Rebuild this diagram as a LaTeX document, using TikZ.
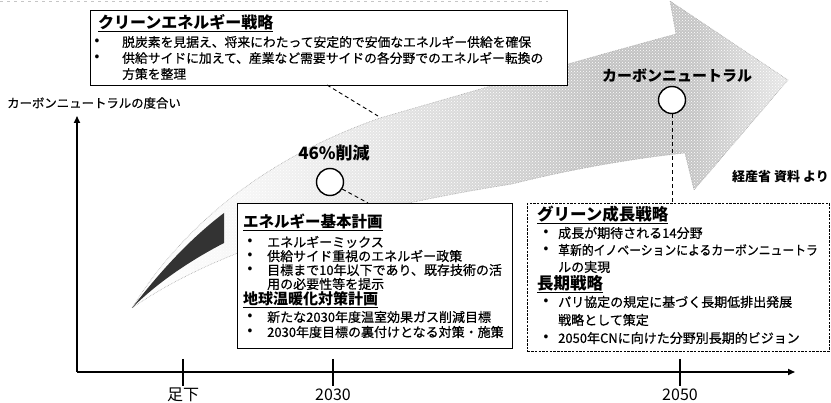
\documentclass[tikz,border=0pt]{standalone}
\usepackage{fontspec}
\usepackage{graphicx}
\newfontfamily\jp{Noto Sans CJK JP}
\newfontfamily\jpm{Noto Sans CJK JP}[FakeBold=0.6]
\usetikzlibrary{arrows.meta,patterns}
\pgfdeclarehorizontalshading{arrowshade}{100bp}{color(0bp)=(white); color(25bp)=(white); color(33bp)=(gray!6); color(49bp)=(gray!28); color(61bp)=(gray!48); color(68bp)=(gray!45); color(75bp)=(gray!18); color(100bp)=(gray!18)}
\begin{document}
\begin{tikzpicture}[x=1pt,y=-1pt,
  ttl/.style={font=\jp\bfseries\fontsize{16}{16}\selectfont, anchor=west, inner sep=0pt},
  bod/.style={font=\jpm\fontsize{13}{13}\selectfont, anchor=west, inner sep=0pt},
  bul/.style={font=\jp\bfseries\fontsize{12}{12}\selectfont, anchor=center, inner sep=0pt},
  lbl/.style={font=\jp\bfseries\fontsize{#1}{#1}\selectfont, inner sep=0pt},
  axl/.style={font=\jp\fontsize{16}{16}\selectfont, inner sep=0pt},
  box/.style={draw=black, line width=1.3pt, fill=white},
  gbox/.style={draw=black, line width=0.8pt, dash pattern=on 2.5pt off 1.2pt, fill=white},
  mark circ/.style={circle, draw=black, line width=1.4pt, fill=white, minimum size=27pt, inner sep=0pt},
  callout/.style={draw=black, line width=0.9pt, dash pattern=on 4pt off 3pt},
  outline/.style={draw=gray!70, line width=0.6pt, densely dotted},
  axis/.style={draw=black, line width=1.6pt, -{Triangle[length=7pt,width=6pt]}},
  tick/.style={draw=black, line width=1.2pt}
]
\useasboundingbox (0,0) rectangle (831,403);
% faint scan line at the top
\coordinate (s0) at (0,1.5);
\coordinate (s1) at (548,1.5);
\draw[gray!45, line width=0.5pt, dash pattern=on 3pt off 4pt] (s0) -- (s1);
% big arrow
\shade[shading=arrowshade] (132,308) .. controls (180,230) and (260,160) .. (380,118)
  .. controls (470,92) and (580,60) .. (676,34) -- (670,1) -- (788,80) -- (694,190) -- (685,153)
  .. controls (620,160) and (560,172) .. (512,184)
  .. controls (380,205) and (230,240) .. (132,308) -- cycle;
\fill[pattern=crosshatch dots, pattern color=white] (132,308) .. controls (180,230) and (260,160) .. (380,118)
  .. controls (470,92) and (580,60) .. (676,34) -- (670,1) -- (788,80) -- (694,190) -- (685,153)
  .. controls (620,160) and (560,172) .. (512,184)
  .. controls (380,205) and (230,240) .. (132,308) -- cycle;
\path[outline] (132,308) .. controls (180,230) and (260,160) .. (380,118)
  .. controls (470,92) and (580,60) .. (676,34) -- (670,1) -- (788,80) -- (694,190) -- (685,153)
  .. controls (620,160) and (560,172) .. (512,184)
  .. controls (380,205) and (230,240) .. (132,308) -- cycle;
% dark wedge
\fill[black!80] (132,308) .. controls (165,265) and (195,235) .. (224,213) -- (224,243)
  .. controls (195,258) and (160,280) .. (132,308) -- cycle;
% axes
\coordinate (O) at (77,372);
\coordinate (Ytop) at (77,116);
\coordinate (Xend) at (795,372);
\draw[axis] (O) -- (Ytop);
\draw[axis] (O) -- (Xend);
\node[font=\jpm\fontsize{12.4}{12.4}\selectfont, anchor=west, inner sep=0pt] (ylab) at (7,103) {カーボンニュートラルの度合い};
\coordinate (k0a) at (183,359); \coordinate (k0b) at (183,386);
\coordinate (k1a) at (333,359); \coordinate (k1b) at (333,386);
\coordinate (k2a) at (680,359); \coordinate (k2b) at (680,386);
\draw[tick] (k0a) -- (k0b);
\draw[tick] (k1a) -- (k1b);
\draw[tick] (k2a) -- (k2b);
\node[axl] (x0) at (183,395) {足下};
\node[axl] (x1) at (333,395) {2030};
\node[axl] (x2) at (680,395) {2050};
% top box
\node[box, minimum width=477pt, minimum height=75pt, anchor=north west, inner sep=0pt] (cbox) at (90,10) {};
\node[ttl] (cT) at (98,23) {\underline{クリーンエネルギー戦略}};
\node[bul] (cb1) at (97,42) {•};
\node[bod, font=\jpm\fontsize{12.8}{12.8}\selectfont] (c1) at (122,42) {脱炭素を見据え、将来にわたって安定的で安価なエネルギー供給を確保};
\node[bul] (cb2) at (97,58) {•};
\node[bod, font=\jpm\fontsize{12.8}{12.8}\selectfont] (c2) at (122,58) {供給サイドに加えて、産業など需要サイドの各分野でのエネルギー転換の};
\node[bod, font=\jpm\fontsize{12.8}{12.8}\selectfont] (c3) at (122,74) {方策を整理};
% energy box
\node[box, minimum width=275pt, minimum height=145pt, anchor=north west, inner sep=0pt] (ebox) at (237,203) {};
\node[ttl, font=\jp\bfseries\fontsize{15.5}{15.5}\selectfont] (eT) at (243,222) {\underline{エネルギー基本計画}};
\node[bul] (eb1) at (250,242) {•};
\node[bod] (e1) at (267,242) {エネルギーミックス};
\node[bul] (eb2) at (250,256) {•};
\node[bod] (e2) at (267,256) {供給サイド重視のエネルギー政策};
\node[bul] (eb3) at (250,270) {•};
\node[bod] (e3) at (267,270) {目標まで10年以下であり、既存技術の活};
\node[bod] (e4) at (267,284) {用の必要性等を提示};
\node[ttl, font=\jp\bfseries\fontsize{15}{15}\selectfont] (eT2) at (243,300) {\underline{地球温暖化対策計画}};
\node[bul] (eb5) at (250,317) {•};
\node[bod] (e5) at (267,317) {新たな2030年度温室効果ガス削減目標};
\node[bul] (eb6) at (250,332) {•};
\node[bod] (e6) at (267,332) {2030年度目標の裏付けとなる対策・施策};
% green box
\node[gbox, minimum width=302pt, minimum height=148pt, anchor=north west, inner sep=0pt] (gbox) at (527,203) {};
\node[ttl, font=\jp\bfseries\fontsize{16.5}{16.5}\selectfont] (gT) at (537,215) {\underline{グリーン成長戦略}};
\node[bul] (gb1) at (546,233) {•};
\node[bod] (g1) at (558,233) {成長が期待される14分野};
\node[bul] (gb2) at (546,250) {•};
\node[bod] (g2) at (558,250) {\scalebox{0.91}[1]{革新的イノベーションによるカーボンニュートラ}};
\node[bod] (g3) at (558,267) {ルの実現};
\node[ttl, font=\jp\bfseries\fontsize{16.5}{16.5}\selectfont] (gT2) at (537,284) {\underline{長期戦略}};
\node[bul] (gb4) at (546,302) {•};
\node[bod] (g4) at (558,302) {パリ協定の規定に基づく長期低排出発展};
\node[bod] (g5) at (558,320) {戦略として策定};
\node[bul] (gb6) at (546,338) {•};
\node[bod] (g6) at (558,338) {2050年CNに向けた分野別長期的ビジョン};
% markers
\node[mark circ] (m46) at (330,182) {};
\node[lbl=17] (t46) at (334,153) {46\%削減};
\node[mark circ] (mcn) at (672,100) {};
\node[lbl=15] (tcn) at (677,76) {カーボンニュートラル};
\node[lbl=13, anchor=east] (src) at (829,177) {経産省 資料 より};
% callouts
\coordinate (cA) at (327,85);
\coordinate (cB) at (378,116);
\draw[callout] (cA) -- (cB);
\draw[callout] (m46.-30) -- (368,203);
\draw[callout] (mcn.south) -- (gbox.north -| mcn.south);
\end{tikzpicture}
\end{document}
